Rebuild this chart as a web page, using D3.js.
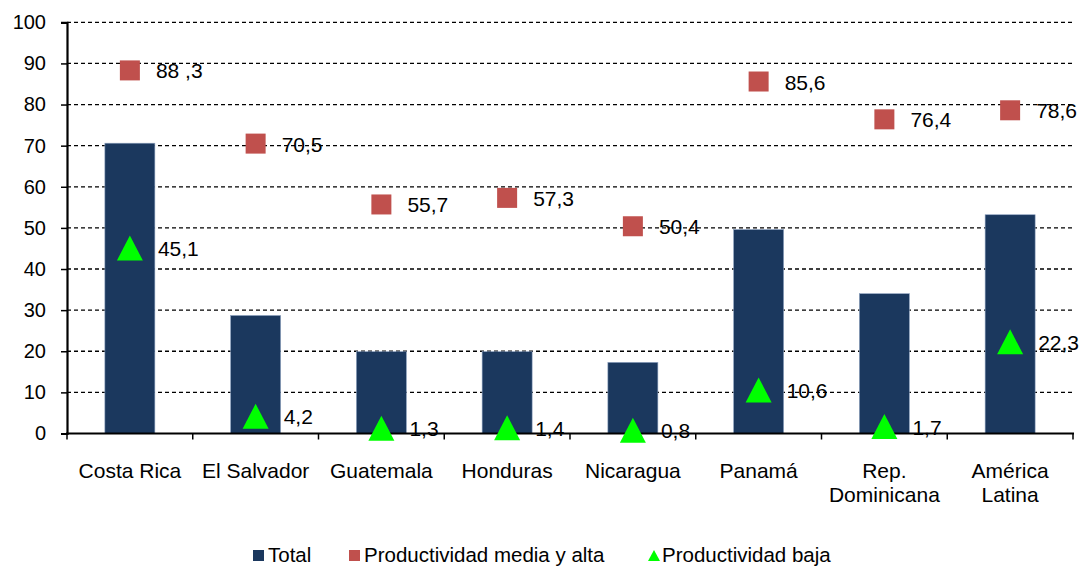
<!DOCTYPE html>
<html>
<head>
<meta charset="UTF-8">
<title>Productividad</title>
<script src="https://d3js.org/d3.v7.min.js"></script>
<style>
  body { margin: 0; background: #fff; }
  text { font-family: "Liberation Sans", Arial, sans-serif; fill: #000; }
</style>
</head>
<body>
<script>
// chart data
var categories = ["Costa Rica", "El Salvador", "Guatemala", "Honduras", "Nicaragua", "Panamá", "Rep.|Dominicana", "América|Latina"];
var total = [70.6, 28.7, 19.9, 19.9, 17.3, 49.6, 34.0, 53.2];
var mediaAlta = [88.3, 70.5, 55.7, 57.3, 50.4, 85.6, 76.4, 78.6];
var baja = [45.1, 4.2, 1.3, 1.4, 0.8, 10.6, 1.7, 22.3];
var mediaLabels = ["88 ,3", "70,5", "55,7", "57,3", "50,4", "85,6", "76,4", "78,6"];
var bajaLabels = ["45,1", "4,2", "1,3", "1,4", "0,8", "10,6", "1,7", "22,3"];
var yTicks = [0, 10, 20, 30, 40, 50, 60, 70, 80, 90, 100];

var W = 1081, H = 568;
var pLeft = 67, pRight = 1073, pTop = 22.3, pBottom = 433.5;

var svg = d3.select("body").append("svg")
    .attr("width", W).attr("height", H);

var x = d3.scaleBand().domain(categories).range([pLeft, pRight]);
var y = d3.scaleLinear().domain([0, 100]).range([pBottom, pTop]);
function cx(i) { return x(categories[i]) + x.bandwidth() / 2; }

// dashed gridlines
svg.append("g").selectAll("line")
    .data(yTicks.filter(function(d) { return d > 0; }))
  .enter().append("line")
    .attr("x1", pLeft).attr("x2", pRight)
    .attr("y1", function(d) { return y(d); })
    .attr("y2", function(d) { return y(d); })
    .attr("stroke", "#000").attr("stroke-width", 1.3)
    .attr("stroke-dasharray", "4,3");

// bars
var bw = 50;
svg.append("g").selectAll("rect")
    .data(total)
  .enter().append("rect")
    .attr("x", function(d, i) { return cx(i) - bw / 2; })
    .attr("y", function(d) { return y(d); })
    .attr("width", bw)
    .attr("height", function(d) { return pBottom - y(d); })
    .attr("fill", "#1b385e")
    .attr("stroke", "#8ea2c0").attr("stroke-width", 0.6);

// y axis
var yAxis = svg.append("g")
    .attr("transform", "translate(" + pLeft + ",0)")
    .call(d3.axisLeft(y).tickValues(yTicks).tickSize(6).tickPadding(15));
yAxis.select(".domain").attr("stroke", "#000").attr("stroke-width", 2.2);
yAxis.selectAll(".tick line").attr("stroke", "#000").attr("stroke-width", 1.5);
yAxis.selectAll(".tick text").style("font-size", "20px")
    .style("font-family", "'Liberation Sans', Arial, sans-serif");

// x axis
var xg = svg.append("g").attr("transform", "translate(0," + pBottom + ")");
xg.append("line").attr("x1", pLeft - 1).attr("x2", pRight + 1)
    .attr("stroke", "#000").attr("stroke-width", 2.2);
var bounds = categories.map(function(c) { return x(c); }).concat([pRight]);
xg.selectAll("line.tk").data(bounds).enter().append("line")
    .attr("class", "tk")
    .attr("x1", function(d) { return d; }).attr("x2", function(d) { return d; })
    .attr("y1", 0).attr("y2", 6)
    .attr("stroke", "#000").attr("stroke-width", 1.5);
var xl = xg.selectAll("text.cat").data(categories).enter().append("text")
    .attr("class", "cat")
    .attr("text-anchor", "middle")
    .attr("transform", function(d) { return "translate(" + (x(d) + x.bandwidth() / 2) + ",44)"; })
    .style("font-size", "21px");
xl.selectAll("tspan").data(function(d) { return d.split("|"); })
  .enter().append("tspan")
    .attr("x", 0)
    .attr("dy", function(d, i) { return i === 0 ? 0 : 24; })
    .text(function(d) { return d; });

// squares: productividad media y alta
var sq = 20;
svg.append("g").selectAll("rect")
    .data(mediaAlta)
  .enter().append("rect")
    .attr("x", function(d, i) { return cx(i) - sq / 2; })
    .attr("y", function(d) { return y(d) - sq / 2; })
    .attr("width", sq).attr("height", sq)
    .attr("fill", "#c0504d");
svg.append("g").selectAll("text")
    .data(mediaAlta)
  .enter().append("text")
    .attr("x", function(d, i) { return cx(i) + 26; })
    .attr("y", function(d) { return y(d) + 8; })
    .style("font-size", "21px")
    .text(function(d, i) { return mediaLabels[i]; });

// triangles: productividad baja
function triPath(w, h) {
  return "M0," + (-h / 2) + "L" + (w / 2) + "," + (h / 2) + "L" + (-w / 2) + "," + (h / 2) + "Z";
}
svg.append("g").selectAll("path")
    .data(baja)
  .enter().append("path")
    .attr("d", triPath(26, 25))
    .attr("transform", function(d, i) { return "translate(" + cx(i) + "," + y(d) + ")"; })
    .attr("fill", "#00ff00");
svg.append("g").selectAll("text")
    .data(baja)
  .enter().append("text")
    .attr("x", function(d, i) { return cx(i) + 28; })
    .attr("y", function(d) { return y(d) + 8; })
    .style("font-size", "21px")
    .text(function(d, i) { return bajaLabels[i]; });

// legend
var lg = svg.append("g").attr("transform", "translate(0,562)");
lg.append("rect").attr("x", 253).attr("y", -12).attr("width", 11).attr("height", 11).attr("fill", "#1b385e");
lg.append("text").attr("x", 268).attr("y", 0).style("font-size", "20.5px").text("Total");
lg.append("rect").attr("x", 349).attr("y", -12).attr("width", 11).attr("height", 11).attr("fill", "#c0504d");
lg.append("text").attr("x", 364).attr("y", 0).style("font-size", "20.5px").text("Productividad media y alta");
lg.append("path").attr("d", triPath(12, 11))
    .attr("transform", "translate(654,-6.5)").attr("fill", "#00ff00");
lg.append("text").attr("x", 662).attr("y", 0).style("font-size", "20.5px").text("Productividad baja");
</script>
</body>
</html>
